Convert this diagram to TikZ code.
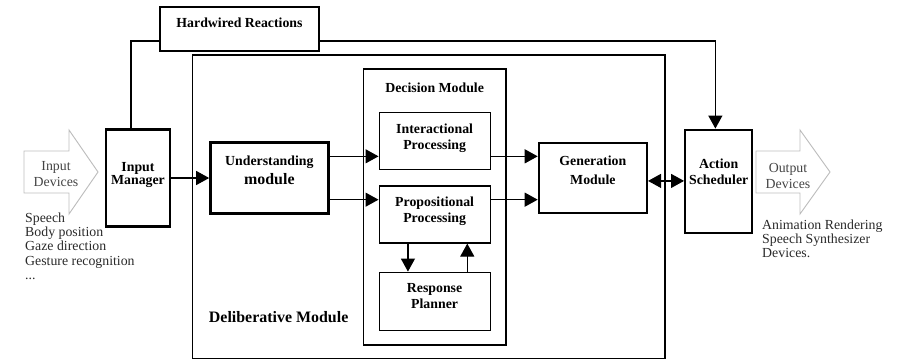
\documentclass[tikz,border=0pt]{standalone}
\usepackage{fontspec}
\setmainfont{Liberation Serif}
\usetikzlibrary{arrows.meta,positioning,fit,calc}
\definecolor{devgray}{HTML}{BDBDBD}
\definecolor{devtext}{HTML}{444444}
\definecolor{listtext}{HTML}{2A2A2A}

\begin{document}
\begin{tikzpicture}[
    x=0.03cm,y=-0.03cm,
    node distance=3mm,
    box/.style={draw,line width=1pt,align=center,font=\fontsize{11.8}{13.5}\selectfont\bfseries},
    modbox/.style={box,line width=2pt},
    subbox/.style={box,minimum width=3.33cm,minimum height=1.71cm,text depth=0.27cm},
    frame/.style={draw,line width=1.4pt},
    tag/.style={inner sep=0pt,font=\fontsize{11.8}{13.5}\selectfont\bfseries},
    arrow/.style={-{Triangle[length=0.39cm,width=0.42cm]},line width=1pt},
    dblarrow/.style={{Triangle[length=0.39cm,width=0.42cm]}-{Triangle[length=0.39cm,width=0.42cm]},line width=1pt},
    devshape/.style={draw=devgray,line width=0.8pt},
    devtxt/.style={text=devtext,align=center,inner sep=0pt,font=\fontsize{11.8}{13}\selectfont},
    listtxt/.style={text=listtext,align=left,inner sep=0pt,font=\fontsize{11.8}{12}\selectfont}
  ]
    \useasboundingbox (0,0) rectangle (899,358);

    % main chain
    \node[modbox,minimum width=1.92cm,minimum height=2.91cm,text depth=0.27cm,font=\fontsize{11.8}{10}\selectfont\bfseries] (inmgr) at (138,178) {Input\\Manager};
    \node[modbox,minimum width=3.54cm,minimum height=2.13cm,text depth=0.45cm,right=1.14cm of inmgr,font=\fontsize{11.8}{16.5}\selectfont\bfseries] (under) {Understanding\\{\fontsize{13.6}{16}\selectfont module}};

    \node[subbox,right=1.47cm of under.north east] (inter) {Interactional\\Processing};
    \node[subbox,below=0.45cm of inter] (propo) {Propositional\\Processing};
    \node[subbox,below=0.84cm of propo,minimum height=1.74cm,text depth=0.33cm] (resp) {Response\\Planner};
    \node[tag,above=0.57cm of inter] (dectag) {Decision Module};
    \node[frame,fit=(dectag)(inter)(resp),inner xsep=0.45cm,inner ysep=0.42cm] (decis) {};

    \coordinate (mid) at ($(inter.east)!0.5!(propo.east)$);
    \node[modbox,minimum width=3.24cm,minimum height=2.1cm,text depth=0.45cm,right=1.41cm of mid,font=\fontsize{11.8}{16.5}\selectfont\bfseries] (gen) {Generation\\Module};
    \node[modbox,minimum width=1.95cm,minimum height=3.09cm,text depth=0.57cm,right=1.08cm of gen,yshift=-0.1cm] (sched) {Action\\Scheduler};

    \node[box,line width=1.2pt,minimum width=4.77cm,minimum height=1.32cm,text depth=0.39cm] (hard) at (239.5,29) {Hardwired Reactions};

    \node[frame,fit=(under)(decis)(gen),inner xsep=0.5cm,inner ysep=0.4cm] (delib) {};
    \node[tag,font=\fontsize{13.6}{16}\selectfont\bfseries,above right=1.11cm and 0.51cm of delib.south west] (deltag) {Deliberative Module};

    % devices
    \draw[devshape] (24,151) -- (69,151) -- (69,130) -- (98,172) -- (69,214) -- (69,193) -- (24,193) -- cycle;
    \node[devtxt] (indev) at (56,174) {Input\\Devices};
    \node[listtxt,anchor=north west] (inlist) at (25,213) {Speech\\Body position\\Gaze direction\\Gesture recognition\\...};

    \draw[devshape] (756,151) -- (800,151) -- (800,130) -- (830,172) -- (800,214) -- (800,193) -- (756,193) -- cycle;
    \node[devtxt] (outdev) at (788,176) {Output\\Devices};
    \node[listtxt,anchor=north west] (outlist) at (762,220) {Animation Rendering\\Speech Synthesizer\\Devices.};

    % connectors
    \coordinate (hi) at ([yshift=0.65cm]under.east);
    \coordinate (lo) at ([yshift=-0.65cm]under.east);
    \draw[arrow] (inmgr.east) -- (inmgr.east -| under.west);
    \draw[arrow] (hi) -- (hi -| inter.west);
    \draw[arrow] (lo) -- (lo -| propo.west);
    \draw[arrow] (hi -| inter.east) -- (hi -| gen.west);
    \draw[arrow] (lo -| propo.east) -- (lo -| gen.west);
    \draw[arrow] ([xshift=-0.8cm]propo.south) -- ([xshift=-0.8cm]resp.north);
    \draw[arrow] ([xshift=0.98cm]resp.north) -- ([xshift=0.98cm]propo.south);
    \draw[dblarrow] ([yshift=-0.09cm]gen.east) -- ([yshift=-0.09cm]gen.east -| sched.west);
    \draw[line width=1pt] ([yshift=-0.36cm]hard.west) -| ([xshift=-0.21cm]inmgr.north);
    \draw[arrow] ([yshift=-0.36cm]hard.east) -| ([xshift=-0.1cm]sched.north);
  \end{tikzpicture}
\end{document}
